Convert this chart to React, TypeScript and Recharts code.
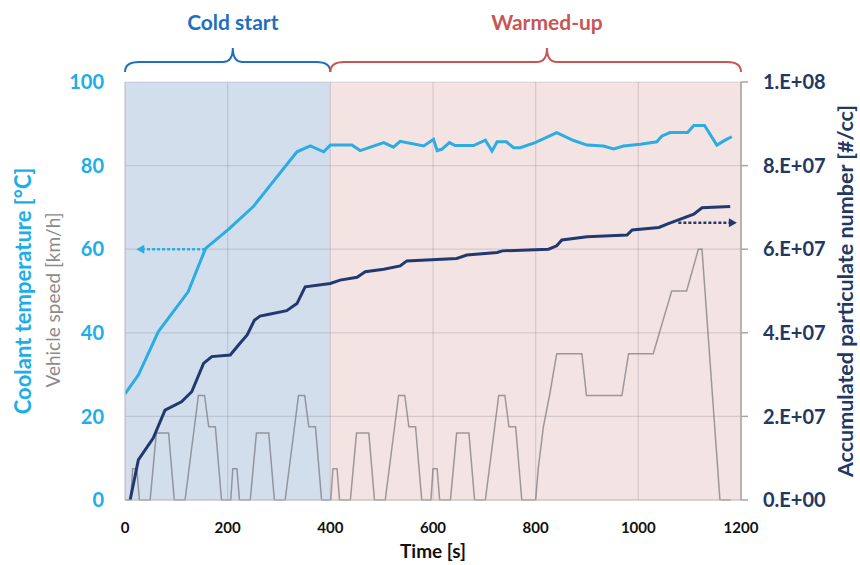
import React from "react";
import { ComposedChart, Line, XAxis, YAxis, CartesianGrid, ReferenceLine } from "recharts";

// axis ticks
const timeTicks = [0, 200, 400, 600, 800, 1000, 1200];
const tempTicks = [0, 20, 40, 60, 80, 100];
const pnTicks = [0, 2e7, 4e7, 6e7, 8e7, 1e8];
const pnTickLabels = ["0.E+00", "2.E+07", "4.E+07", "6.E+07", "8.E+07", "1.E+08"];

// coolant temperature [°C]
const tempTime = [0, 26, 65, 123, 157, 201, 250, 335, 361, 387, 400, 442, 458, 504, 523, 536, 582, 601, 608, 617, 632, 643, 679, 702, 715, 725, 743, 757, 770, 799, 841, 874, 900, 932, 952, 971, 1004, 1036, 1046, 1062, 1096, 1108, 1129, 1153, 1169, 1182];
const tempValue = [25.4, 29.9, 40.3, 49.8, 60.2, 64.7, 70.2, 83.3, 84.7, 83.3, 84.9, 84.9, 83.6, 85.5, 84.4, 85.8, 84.7, 86.3, 83.6, 83.9, 85.5, 84.8, 84.8, 86.1, 83.5, 85.7, 85.7, 84.3, 84.3, 85.5, 87.9, 86.0, 84.9, 84.7, 84.0, 84.7, 85.1, 85.7, 87.1, 87.9, 87.9, 89.6, 89.6, 84.9, 86.1, 86.9];

// accumulated particulate number [#/cc]
const pnTime = [10, 26, 55, 78, 110, 130, 153, 169, 205, 224, 238, 252, 263, 276, 315, 335, 351, 400, 419, 452, 468, 504, 536, 549, 646, 666, 725, 735, 825, 841, 851, 900, 978, 988, 1040, 1056, 1108, 1124, 1179];
const pnValue = [0, 0.96e7, 1.48e7, 2.15e7, 2.35e7, 2.59e7, 3.27e7, 3.43e7, 3.47e7, 3.75e7, 3.95e7, 4.3e7, 4.4e7, 4.43e7, 4.53e7, 4.7e7, 5.1e7, 5.18e7, 5.26e7, 5.33e7, 5.46e7, 5.52e7, 5.6e7, 5.72e7, 5.78e7, 5.86e7, 5.92e7, 5.96e7, 6.0e7, 6.08e7, 6.22e7, 6.3e7, 6.34e7, 6.46e7, 6.52e7, 6.6e7, 6.84e7, 6.99e7, 7.02e7];

// vehicle speed (plotted on the left scale)
const speedTime = [
  0, 11, 15, 23, 28, 49, 61, 85, 96, 117, 143, 155, 163, 176, 188,
  206, 210, 218, 223, 244, 256, 280, 291, 312, 338, 350, 358, 371, 383,
  401, 405, 413, 418, 439, 451, 475, 486, 507, 533, 545, 553, 566, 578,
  596, 600, 608, 613, 634, 646, 670, 681, 702, 728, 740, 748, 761, 773,
  800, 805, 815, 827, 841, 890, 899, 968, 981, 1029, 1065, 1094, 1117, 1124, 1159, 1180,
];
const speedValue = [
  0, 0, 7.5, 7.5, 0, 0, 16, 16, 0, 0, 25, 25, 17.5, 17.5, 0,
  0, 7.5, 7.5, 0, 0, 16, 16, 0, 0, 25, 25, 17.5, 17.5, 0,
  0, 7.5, 7.5, 0, 0, 16, 16, 0, 0, 25, 25, 17.5, 17.5, 0,
  0, 7.5, 7.5, 0, 0, 16, 16, 0, 0, 25, 25, 17.5, 17.5, 0,
  0, 7.5, 17.5, 25, 35, 35, 25, 25, 35, 35, 50, 50, 60, 60, 0, 0,
];

// phases shown with braces above the plot
const phaseNames = ["Cold start", "Warmed-up"];
const phaseFrom = [0, 400];
const phaseTo = [400, 1200];
const phaseMid = [210, 822];

const CYAN = "#1BAEEA";
const TEMP_LINE = "#2BACE2";
const NAVY = "#1F3864";
const PN_LINE = "#22396F";
const PHASE_COLORS = ["#1F6FBF", "#C95555"];
const FONT = "Lato, 'Open Sans', sans-serif";

const tempData = tempTime.map((t, i) => ({ t, v: tempValue[i] }));
const pnData = pnTime.map((t, i) => ({ t, v: pnValue[i] }));
const speedData = speedTime.map((t, i) => ({ t, v: speedValue[i] }));

const braceShape = (idx: number) => (p: any) => {
  const { x1, x2, y1: y } = p;
  const m = x1 + ((x2 - x1) * (phaseMid[idx] - phaseFrom[idx])) / (phaseTo[idx] - phaseFrom[idx]);
  const color = PHASE_COLORS[idx];
  const d = `M${x1},${y + 10} Q${x1},${y} ${x1 + 14},${y} L${m - 10},${y} Q${m},${y} ${m},${y - 14} Q${m},${y} ${m + 10},${y} L${x2 - 14},${y} Q${x2},${y} ${x2},${y + 10}`;
  return (
    <g>
      <path d={d} fill="none" stroke={color} strokeWidth={2} />
      <text x={m} y={y - 32} textAnchor="middle" fill={color} fontSize={21} fontWeight={700} fontFamily={FONT}>
        {phaseNames[idx]}
      </text>
    </g>
  );
};

const arrowShape = (color: string) => (p: any) => {
  const { x1, y1, x2, y2 } = p;
  const dir = x2 > x1 ? 1 : -1;
  const tipBase = x2 - dir * 8;
  return (
    <g>
      <line x1={x1} y1={y1} x2={tipBase} y2={y2} stroke={color} strokeWidth={2.5} strokeDasharray="3 2" />
      <polygon points={`${x2},${y2} ${tipBase},${y2 - 4.5} ${tipBase},${y2 + 4.5}`} fill={color} />
    </g>
  );
};

const LeftAxisLabel = (props: any) => {
  const { viewBox } = props;
  const cy = viewBox.y + viewBox.height / 2;
  return (
    <g fontFamily={FONT}>
      <text x={22} y={cy} transform={`rotate(-90, 22, ${cy})`} textAnchor="middle" dominantBaseline="central" fill={CYAN} fontSize={22} fontWeight={700}>
        Coolant temperature [°C]
      </text>
      <text x={52} y={cy + 9} transform={`rotate(-90, 52, ${cy + 9})`} textAnchor="middle" dominantBaseline="central" fill="#8C8C8C" fontSize={19}>
        Vehicle speed [km/h]
      </text>
    </g>
  );
};

const RightAxisLabel = (props: any) => {
  const { viewBox } = props;
  const cy = viewBox.y + viewBox.height / 2;
  const x = viewBox.x + 104;
  return (
    <text x={x} y={cy} transform={`rotate(-90, ${x}, ${cy})`} textAnchor="middle" dominantBaseline="central" fill={NAVY} fontSize={21.5} fontWeight={700} fontFamily={FONT}>
      Accumulated particulate number [#/cc]
    </text>
  );
};

const TimeLabel = (props: any) => {
  const { viewBox } = props;
  return (
    <text x={viewBox.x + viewBox.width / 2} y={viewBox.y + 58} textAnchor="middle" fill="#111" fontSize={19} fontWeight={700} fontFamily={FONT}>
      Time [s]
    </text>
  );
};

export default function App() {
  return (
    <div style={{ position: "absolute", left: 0, top: 0, width: 860, height: 565, background: "#fff" }}>
      <ComposedChart width={860} height={565} margin={{ top: 82, right: 0, bottom: 0, left: 0 }}>
        <CartesianGrid
          yAxisId="left"
          stroke="rgba(110,110,120,0.22)"
          strokeWidth={1.2}
          verticalFill={["#D3DEED", "#D3DEED", "#F4E3E3", "#F4E3E3", "#F4E3E3", "#F4E3E3", "#F4E3E3"]}
          fillOpacity={1}
        />
        <XAxis
          type="number"
          dataKey="t"
          domain={[0, 1200]}
          ticks={timeTicks}
          allowDataOverflow
          height={65}
          tickLine={false}
          tickSize={0}
          tickMargin={22}
          axisLine={{ stroke: "#BFBFBF" }}
          tick={{ fill: "#111", fontSize: 15, fontWeight: 700, fontFamily: FONT }}
          label={<TimeLabel />}
        />
        <YAxis
          yAxisId="left"
          orientation="left"
          domain={[0, 100]}
          ticks={tempTicks}
          width={125}
          axisLine={{ stroke: "#C8C8C8" }}
          tickLine={false}
          tickSize={0}
          tickMargin={21}
          tick={{ fill: CYAN, fontSize: 20, fontWeight: 700, fontFamily: FONT }}
          label={<LeftAxisLabel />}
        />
        <YAxis
          yAxisId="right"
          orientation="right"
          domain={[0, 1e8]}
          ticks={pnTicks}
          width={119}
          axisLine={{ stroke: "#A6A6A6", strokeWidth: 1.5 }}
          tickLine={{ stroke: "#A6A6A6", strokeWidth: 1.5 }}
          tickSize={7}
          tickMargin={15}
          tickFormatter={(v: number) => pnTickLabels[pnTicks.indexOf(v)]}
          tick={{ fill: NAVY, fontSize: 20, fontWeight: 700, fontFamily: FONT }}
          label={<RightAxisLabel />}
        />
        <Line
          yAxisId="left"
          data={speedData}
          dataKey="v"
          type="linear"
          stroke="rgba(105,105,110,0.62)"
          strokeWidth={1.5}
          dot={false}
          activeDot={false}
          isAnimationActive={false}
        />
        <Line
          yAxisId="left"
          data={tempData}
          dataKey="v"
          type="linear"
          stroke={TEMP_LINE}
          strokeWidth={3}
          dot={false}
          activeDot={false}
          isAnimationActive={false}
        />
        <Line
          yAxisId="right"
          data={pnData}
          dataKey="v"
          type="linear"
          stroke={PN_LINE}
          strokeWidth={3}
          dot={false}
          activeDot={false}
          isAnimationActive={false}
        />
        <ReferenceLine
          yAxisId="left"
          segment={[{ x: 156, y: 60 }, { x: 22, y: 60 }]}
          shape={arrowShape(TEMP_LINE)}
          ifOverflow="visible"
        />
        <ReferenceLine
          yAxisId="right"
          segment={[{ x: 1078, y: 6.63e7 }, { x: 1192, y: 6.63e7 }]}
          shape={arrowShape(PN_LINE)}
          ifOverflow="visible"
        />
        {phaseNames.map((name, i) => (
          <ReferenceLine
            key={name}
            yAxisId="left"
            segment={[{ x: phaseFrom[i], y: 104.8 }, { x: phaseTo[i], y: 104.8 }]}
            shape={braceShape(i)}
            ifOverflow="visible"
          />
        ))}
      </ComposedChart>
    </div>
  );
}
